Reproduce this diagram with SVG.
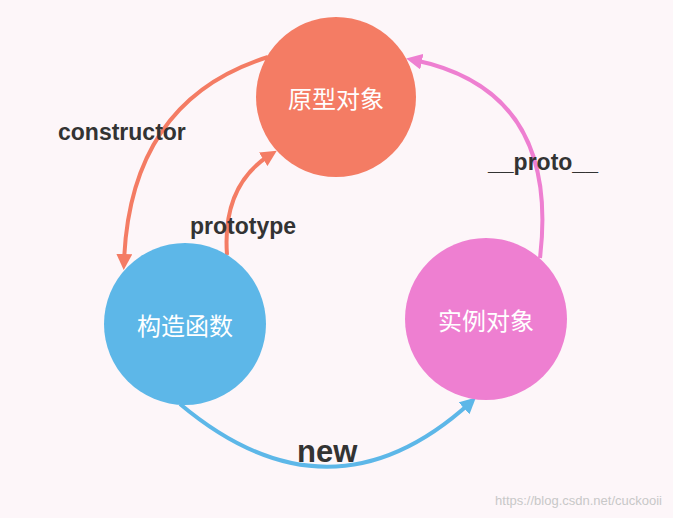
<svg xmlns="http://www.w3.org/2000/svg" width="673" height="518" viewBox="0 0 673 518">
<style>
.lbl{font-family:"Liberation Sans",Arial,sans-serif;font-weight:bold;fill:#333;}
.nt{font-family:"Noto Sans CJK SC",sans-serif;font-size:24px;fill:#fff;text-anchor:middle;dominant-baseline:central;}
.c{fill:none;stroke-width:4;}
</style>
<defs>
<marker id="ar" viewBox="0 0 10 10" refX="5" refY="5" markerWidth="4" markerHeight="4" orient="auto"><path d="M0,0L10,5L0,10z" fill="#f47c64"/></marker>
<marker id="ap" viewBox="0 0 10 10" refX="5" refY="5" markerWidth="4" markerHeight="4" orient="auto"><path d="M0,0L10,5L0,10z" fill="#ee7fd1"/></marker>
<marker id="ab" viewBox="0 0 10 10" refX="5" refY="5" markerWidth="4" markerHeight="4" orient="auto"><path d="M0,0L10,5L0,10z" fill="#5db7e8"/></marker>
</defs>
<rect width="673" height="518" fill="#fdf6f9"/>
<g id="connectors">
<path class="c" stroke="#f47c64" d="M268,57 Q130,100 124,262" marker-end="url(#ar)"/>
<path class="c" stroke="#f47c64" d="M227,255 Q222,185 270,155" marker-end="url(#ar)"/>
<path class="c" stroke="#ee7fd1" d="M540,258 Q560,90 414,60" marker-end="url(#ap)"/>
<path class="c" stroke="#5db7e8" d="M180,404 Q330,530 470,403" marker-end="url(#ab)"/>
</g>
<g id="n1"><circle cx="336" cy="97" r="80" fill="#f47c64"/><text class="nt" x="336" y="97">原型对象</text></g>
<g id="n2"><circle cx="185" cy="324" r="81" fill="#5db7e8"/><text class="nt" x="185" y="324">构造函数</text></g>
<g id="n3"><circle cx="486" cy="319" r="81" fill="#ee7fd1"/><text class="nt" x="486" y="319">实例对象</text></g>
<text class="lbl" x="58" y="140" font-size="23">constructor</text>
<text class="lbl" x="190" y="234" font-size="23">prototype</text>
<text class="lbl" x="488" y="170" font-size="23">__proto__</text>
<text class="lbl" x="297" y="462" font-size="31">new</text>
<text x="662" y="505" text-anchor="end" font-family="Liberation Sans,Arial,sans-serif" font-size="13" fill="#c8c8c8">https://blog.csdn.net/cuckooii</text>
</svg>
